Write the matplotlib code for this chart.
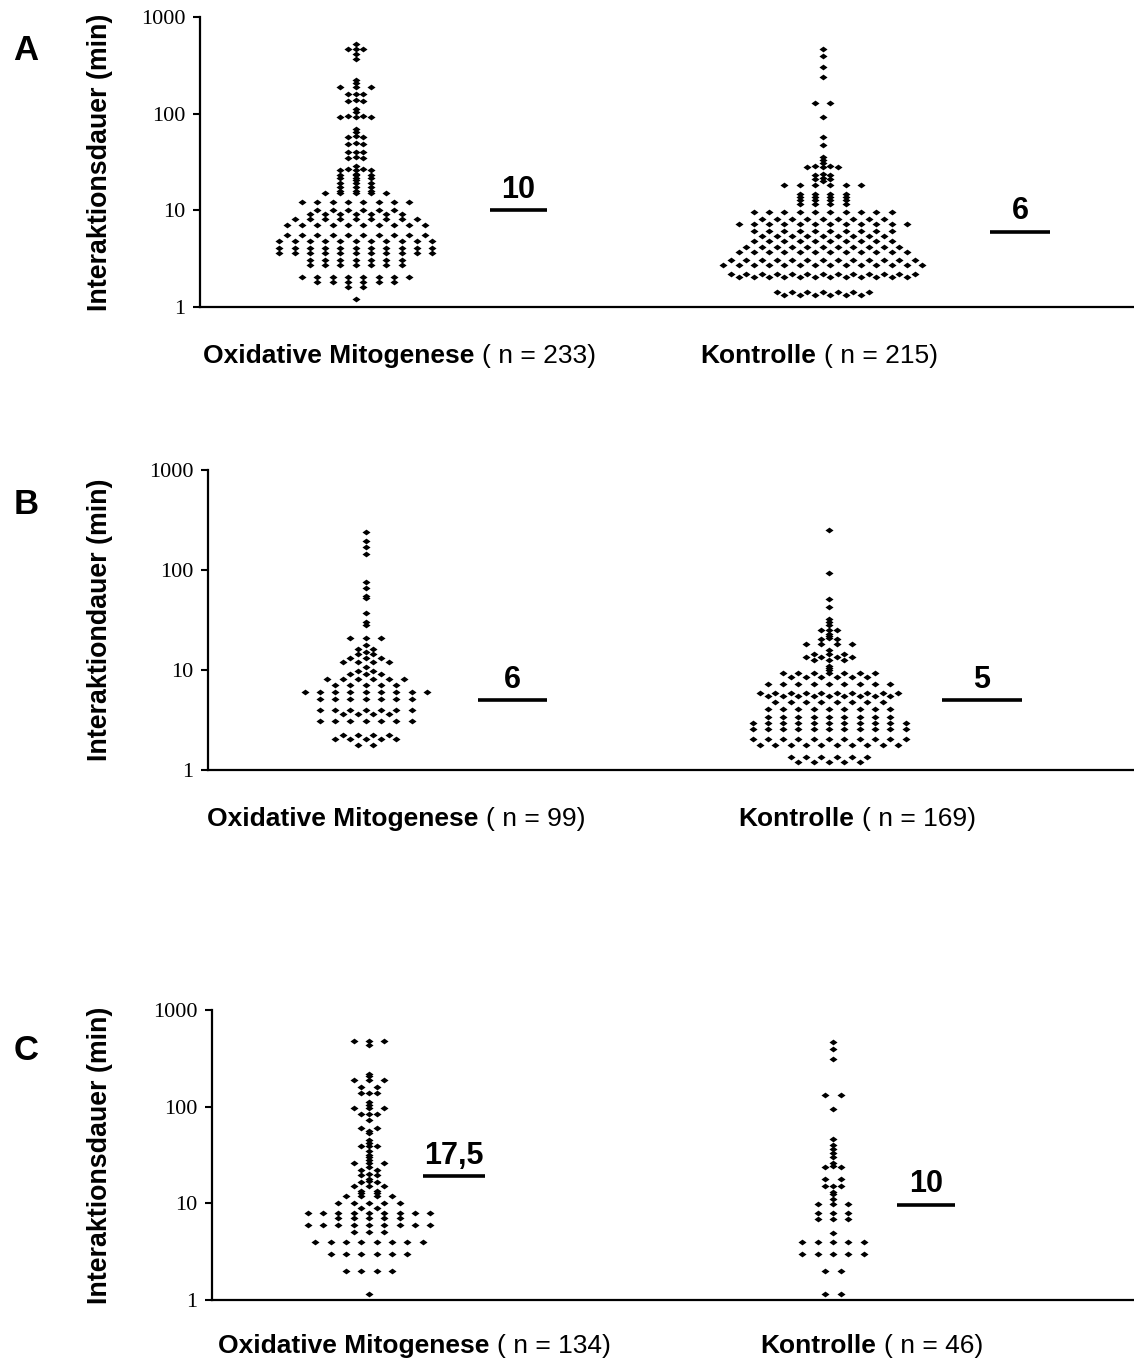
import matplotlib
matplotlib.use("Agg")
import matplotlib.pyplot as plt
from matplotlib.ticker import FixedLocator, NullLocator, FixedFormatter

W, H = 1134, 1364

# ---------------- data (values in min, number of points at that value) ----------------
a_ox_vals = [1.2, 1.6, 1.82, 2.02, 2.7, 3.05, 3.63, 4.03, 4.83, 5.54, 7.1, 8.2, 9.2, 10,
             12.2, 15, 16, 17.5, 19, 20.5, 21.5, 23, 24, 26, 26.5, 29, 35, 35.5, 40, 40.5,
             49, 49.5, 58, 58.5, 65, 70, 93, 94, 105, 112, 136, 137, 158, 159, 190, 210,
             225, 372, 419, 464, 465, 531]
a_ox_counts = [1, 2, 6, 8, 7, 7, 11, 11, 11, 10, 10, 9, 7, 6,
               8, 5, 3, 3, 3, 1, 3, 3, 1, 3, 2, 1, 2, 1, 2, 1,
               2, 1, 2, 1, 1, 1, 3, 2, 1, 1, 2, 1, 2, 1, 3, 1,
               1, 1, 1, 2, 1, 1]

a_kon_vals = [1.32, 1.44, 2.05, 2.22, 2.75, 3.1, 3.71, 4.18, 4.82, 5.43, 6.12, 7.16, 8.2,
              9.6, 11.7, 12.7, 13.7, 14.8, 18.1, 20, 21, 21.5, 23, 23.5, 28.4, 28.6, 31,
              33, 36, 47.5, 58, 93, 130, 240, 305, 398, 470]
a_kon_counts = [6, 7, 12, 13, 14, 13, 12, 11, 10, 9, 10, 12, 9,
                10, 4, 4, 4, 4, 6, 1, 2, 1, 2, 1, 3, 2, 1,
                1, 1, 1, 1, 1, 2, 1, 1, 1, 1]

b_ox_vals = [1.78, 2.03, 2.22, 3.1, 3.65, 4.0, 5.1, 6.05, 7.08, 8.2, 9.2, 9.8, 10.6, 12,
             13.3, 14.5, 15, 16.4, 17.8, 20.7, 28, 30, 37, 52, 55, 66, 76, 143, 170, 195, 242]
b_ox_counts = [2, 5, 4, 7, 4, 7, 7, 9, 5, 6, 3, 2, 1, 4,
               3, 2, 1, 2, 1, 3, 1, 1, 1, 1, 1, 1, 1, 1, 1, 1, 1]

b_kon_vals = [1.2, 1.36, 1.78, 2.03, 2.55, 2.93, 3.36, 4.05, 4.8, 5.5, 5.94, 7.2, 8.5, 9.3,
              10, 10.5, 11, 12.5, 13.4, 14.3, 16, 18, 20.6, 20.8, 22, 23, 25, 25.2, 28, 30,
              32, 43, 51, 94, 251]
b_kon_counts = [5, 6, 10, 11, 11, 11, 9, 9, 8, 9, 10, 9, 6, 7,
                1, 1, 1, 3, 4, 3, 1, 4, 2, 1, 1, 1, 2, 1, 1, 1,
                1, 1, 1, 1, 1]

c_ox_vals = [1.15, 2.0, 3.0, 4.0, 5.0, 6.0, 7.0, 8.0, 8.9, 10, 12, 12.8, 13.5, 15, 16.5,
             17, 18, 19.5, 20, 22, 24, 26, 28, 30, 32, 35, 39, 39.5, 42, 45, 53, 56, 60,
             72, 83, 83.5, 96, 105, 112, 137, 138, 160, 191, 210, 220, 433, 480]
c_ox_counts = [1, 4, 6, 8, 3, 9, 5, 9, 2, 5, 4, 2, 2, 3, 2,
               1, 1, 2, 1, 2, 1, 3, 1, 1, 1, 1, 2, 1, 1, 1, 1, 1, 2,
               1, 2, 1, 3, 1, 1, 2, 1, 2, 3, 1, 1, 1, 3]

c_kon_vals = [1.15, 2.0, 3.0, 3.96, 4.9, 6.9, 7.9, 9.9, 11.2, 12.5, 13, 15, 15.2, 18, 24,
              24.3, 26, 30, 33, 36.6, 40, 46, 95, 133, 311, 393, 471]
c_kon_counts = [2, 2, 5, 5, 1, 3, 3, 3, 1, 1, 1, 2, 1, 2, 2,
                1, 1, 1, 1, 1, 1, 1, 1, 2, 1, 1, 1]

median_labels = [["10", "6"], ["6", "5"], ["17,5", "10"]]
median_line_vals = [[10, 6], [5, 5], [19, 9.6]]
group_names = ["Oxidative Mitogenese", "Kontrolle"]
group_n = [["233", "215"], ["99", "169"], ["134", "46"]]
panel_letters = ["A", "B", "C"]
ylabels = ["Interaktionsdauer (min)", "Interaktiondauer (min)", "Interaktionsdauer (min)"]
yticks = [1, 10, 100, 1000]
ytick_labels = ["1", "10", "100", "1000"]

# ---------------- layout (pixel positions) ----------------
panel_geom = [  # axis left x, top y (1000), bottom y (1)
    (200, 17, 307),
    (208, 470, 770),
    (212, 1010, 1300),
]
group_centers = [[355.7, 822.7], [365.7, 829], [369, 833]]
median_spans = [[(490, 547), (990, 1050)], [(478, 547), (942, 1022)], [(423, 485), (897, 955)]]
label_starts = [[203, 700], [207, 738], [218, 760]]
label_y = [356, 819, 1346]
letter_pos = [(26, 50), (26, 505), (26, 1050)]
D = 15.3  # horizontal dot spacing (px)

groups = [[(a_ox_vals, a_ox_counts), (a_kon_vals, a_kon_counts)],
          [(b_ox_vals, b_ox_counts), (b_kon_vals, b_kon_counts)],
          [(c_ox_vals, c_ox_counts), (c_kon_vals, c_kon_counts)]]

SANS = ["Liberation Sans", "DejaVu Sans"]
SERIF = ["Liberation Serif", "DejaVu Serif"]

fig = plt.figure(figsize=(W / 100, H / 100), dpi=100)
diamond = [(-1, 0), (0, 0.72), (1, 0), (0, -0.72), (-1, 0)]


def row_layout(vals, counts, center, d):
    xs, ys = [], []
    for v, k in zip(vals, counts):
        for i in range(k):
            xs.append(center + (i - (k - 1) / 2.0) * d)
            ys.append(v)
    return xs, ys


for p in range(3):
    left, top, bottom = panel_geom[p]
    ax = fig.add_axes([left / W, 1 - bottom / H, (W - left) / W, (bottom - top) / H])
    ax.set_yscale("log")
    ax.set_ylim(1, 1000)
    ax.set_xlim(left, W)
    for s in ("top", "right"):
        ax.spines[s].set_visible(False)
    for s in ("left", "bottom"):
        ax.spines[s].set_linewidth(1.6)
        ax.spines[s].set_color("black")
    ax.yaxis.set_major_locator(FixedLocator(yticks))
    ax.yaxis.set_major_formatter(FixedFormatter(ytick_labels))
    ax.yaxis.set_minor_locator(NullLocator())
    ax.xaxis.set_major_locator(NullLocator())
    ax.xaxis.set_minor_locator(NullLocator())
    ax.tick_params(axis="y", direction="out", length=5, width=1.5, pad=5.5)
    for lab in ax.get_yticklabels():
        lab.set_family(SERIF)
        lab.set_fontsize(16)

    for g in range(2):
        vals, counts = groups[p][g]
        xs, ys = row_layout(vals, counts, group_centers[p][g], D)
        ax.plot(xs, ys, linestyle="none", marker=diamond, markersize=5.8,
                color="black", markeredgewidth=0, clip_on=False)
        x0, x1 = median_spans[p][g]
        mv = median_line_vals[p][g]
        ax.plot([x0, x1], [mv, mv], color="black", lw=2.6, solid_capstyle="butt")
        ax.annotate(median_labels[p][g], xy=((x0 + x1) / 2, mv), xytext=(0, 4),
                    textcoords="offset points", ha="center", va="bottom",
                    fontsize=22, fontweight="bold", family=SANS)

    # y label
    fig.text(100 / W, 1 - ((top + bottom) / 2) / H, ylabels[p], rotation=90,
             ha="center", va="center", fontsize=19.3, fontweight="bold", family=SANS)
    # panel letter
    lx, ly = letter_pos[p]
    fig.text(lx / W, 1 - ly / H, panel_letters[p], ha="center", va="center",
             fontsize=25, fontweight="bold", family=SANS)

renderer = fig.canvas.get_renderer()
for p in range(3):
    for g in range(2):
        x = label_starts[p][g]
        y = label_y[p]
        t = fig.text(x / W, 1 - y / H, group_names[g], ha="left", va="center",
                     fontsize=19, fontweight="bold", family=SANS)
        bb = t.get_window_extent(renderer)
        fig.text((bb.x1 + 8) / W, 1 - y / H, "( n = %s)" % group_n[p][g], ha="left",
                 va="center", fontsize=19, family=SANS)

fig.savefig("out.png", dpi=100)
